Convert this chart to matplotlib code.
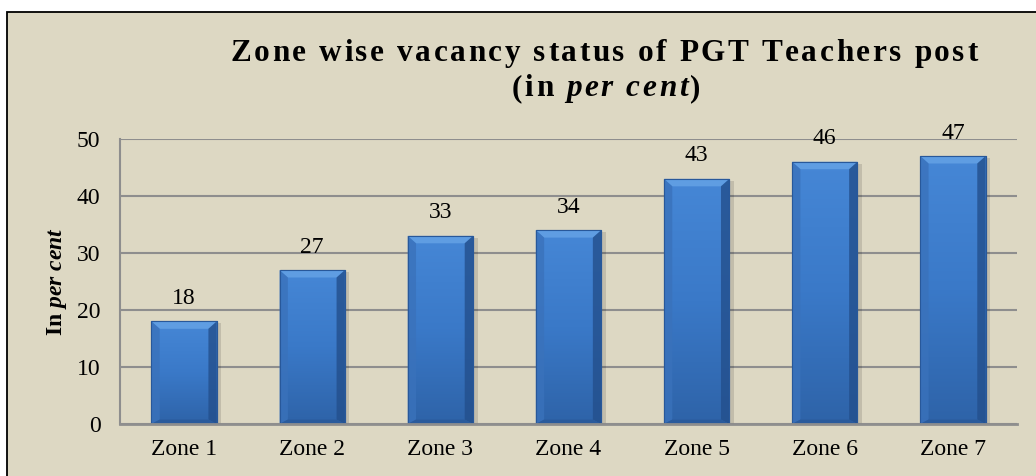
import numpy as np
import matplotlib
matplotlib.use('Agg')
import matplotlib.pyplot as plt
from matplotlib.patches import Rectangle, Polygon
from matplotlib.colors import LinearSegmentedColormap
from matplotlib.font_manager import findfont, FontProperties
from matplotlib.ft2font import FT2Font

# ── 데이터 ──────────────────────────────────────────────
zones = ['Zone 1', 'Zone 2', 'Zone 3', 'Zone 4', 'Zone 5', 'Zone 6', 'Zone 7']
vacancy = [18, 27, 33, 34, 43, 46, 47]
y_ticks = [0, 10, 20, 30, 40, 50]

BG = '#ddd8c3'
GRID = '#8e8e8e'
DPI = 100

plt.rcParams.update({
    'font.family': 'Liberation Serif',
    'mathtext.fontset': 'custom',
    'mathtext.rm': 'Liberation Serif:bold',
    'mathtext.it': 'Liberation Serif:bold:italic',
    'mathtext.bf': 'Liberation Serif:bold',
})


def spaced_line(fig, parts, cx, base_y, size, spacing):
    """글자 간격을 넓힌 제목 한 줄 (parts: [(문자열, italic 여부)])"""
    items = []
    for s, it in parts:
        fp = FontProperties(family='Liberation Serif', weight='bold',
                            style='italic' if it else 'normal')
        ft = FT2Font(findfont(fp))
        ft.set_size(size, 72)
        for c in s:
            adv = ft.load_char(ord(c)).linearHoriAdvance / 65536 * DPI / 72
            items.append((c, fp, adv))
    total = sum(a for _, _, a in items) + spacing * (len(items) - 1)
    x = cx - total / 2
    W, H = fig.get_size_inches() * DPI
    for c, fp, adv in items:
        fig.text(x / W, 1 - base_y / H, c, fontproperties=fp, fontsize=size,
                 ha='left', va='baseline')
        x += adv + spacing


fig = plt.figure(figsize=(10.36, 4.76), dpi=DPI)
fig.patch.set_facecolor('white')

# 차트 영역 테두리
frame = Rectangle((7 / 1036, -0.05), 1.1, 0.05 + 1 - 12 / 476,
                  transform=fig.transFigure, facecolor=BG,
                  edgecolor='black', linewidth=1.3, zorder=-10)
fig.patches.append(frame)

ax = fig.add_axes([120 / 1036, 1 - 424 / 476, (1017 - 120) / 1036, (424 - 139) / 476])
ax.set_facecolor(BG)

x = np.arange(len(zones))
width = 0.51
bars = ax.bar(x, vacancy, width=width, color='#3a77c4',
              edgecolor='#28589a', linewidth=0.8, zorder=3)

# 그라데이션 + 베벨 효과
cmap = LinearSegmentedColormap.from_list('bar', ['#2e63a8', '#3a79c8', '#4687d6'])
grad = np.linspace(0, 1, 256).reshape(-1, 1)
bx = 0.065   # 베벨 가로 폭 (data)
by = 1.3     # 베벨 세로 폭 (data)
for b in bars:
    x0, w, h = b.get_x(), b.get_width(), b.get_height()
    # 그림자
    ax.add_patch(Rectangle((x0 + 0.035, 0), w, h - 0.3, facecolor='#000000',
                           alpha=0.12, zorder=2, linewidth=0))
    im = ax.imshow(grad, extent=[x0, x0 + w, 0, h], origin='lower',
                   cmap=cmap, aspect='auto', zorder=3.5)
    im.set_clip_path(b)
    ax.add_patch(Polygon([[x0, h], [x0 + w, h], [x0 + w - bx, h - by], [x0 + bx, h - by]],
                         closed=True, facecolor='#5f9de2', linewidth=0, zorder=4))
    ax.add_patch(Polygon([[x0, 0], [x0 + bx, by * 0.6], [x0 + bx, h - by], [x0, h]],
                         closed=True, facecolor='#3a72bb', alpha=0.8, linewidth=0, zorder=4))
    ax.add_patch(Polygon([[x0 + w, 0], [x0 + w - bx, by * 0.6], [x0 + w - bx, h - by], [x0 + w, h]],
                         closed=True, facecolor='#234f8c', alpha=0.8, linewidth=0, zorder=4))
    ax.add_patch(Polygon([[x0, 0], [x0 + w, 0], [x0 + w - bx, by * 0.6], [x0 + bx, by * 0.6]],
                         closed=True, facecolor='#2a5b9c', linewidth=0, zorder=4))
    ax.add_patch(Rectangle((x0, 0), w, h, facecolor='none', edgecolor='#28589a',
                           linewidth=0.8, zorder=4.5))
    ax.text(x0 + w / 2, h + 2.2, f'{h:g}', ha='center', va='bottom',
            fontsize=17, zorder=5)

ax.set_xlim(-0.5, len(zones) - 0.5)
ax.set_ylim(0, 50)
ax.set_yticks(y_ticks)
ax.set_xticks(x)
ax.set_xticklabels(zones)
ax.tick_params(axis='both', length=0, labelsize=17)
ax.tick_params(axis='x', pad=11)
ax.tick_params(axis='y', pad=14)

ax.grid(axis='y', color=GRID, linewidth=1.5, zorder=0)
ax.set_axisbelow(True)
for s in ['top', 'right']:
    ax.spines[s].set_visible(False)
ax.spines['left'].set_color(GRID)
ax.spines['left'].set_linewidth(1.5)
ax.spines['bottom'].set_color(GRID)
ax.spines['bottom'].set_linewidth(2)
ax.spines['bottom'].set_zorder(6)

ax.set_ylabel(r'In $per\ cent$', fontsize=17, fontweight='bold', labelpad=6)

# 제목 (자간 확장)
spaced_line(fig, [('Zone wise vacancy status of PGT Teachers post', False)],
            604, 61, 22.5, 2.6)
spaced_line(fig, [('(in ', False), ('per cent', True), (')', False)],
            606, 96, 22.5, 2.6)

fig.savefig('out.png', dpi=DPI, facecolor='white')
